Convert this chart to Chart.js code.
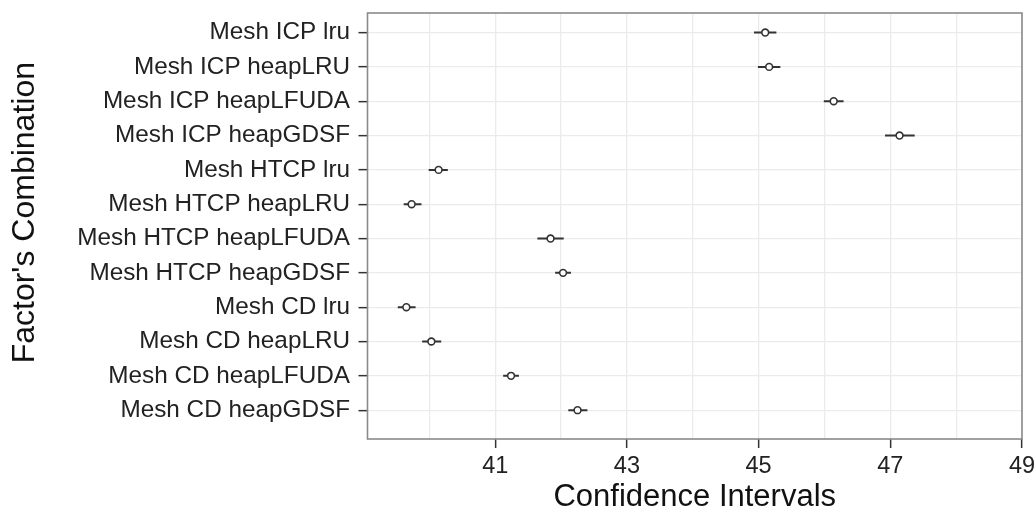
<!DOCTYPE html>
<html>
<head>
<meta charset="utf-8">
<title>Confidence Intervals</title>
<script src="https://cdn.jsdelivr.net/npm/chart.js@4/dist/chart.umd.min.js"></script>
<style>
    html, body { margin: 0; padding: 0; background: #fff; }
    #wrap { width: 1036px; height: 508px; }
</style>
</head>
<body>
<div id="wrap"><canvas id="ciChart" width="1036" height="508"></canvas></div>
<script>
// --- Data ---
const categories = [
    'Mesh ICP lru', 'Mesh ICP heapLRU', 'Mesh ICP heapLFUDA', 'Mesh ICP heapGDSF',
    'Mesh HTCP lru', 'Mesh HTCP heapLRU', 'Mesh HTCP heapLFUDA', 'Mesh HTCP heapGDSF',
    'Mesh CD lru', 'Mesh CD heapLRU', 'Mesh CD heapLFUDA', 'Mesh CD heapGDSF'
];
const means = [45.10, 45.16, 46.14, 47.14, 40.14, 39.73, 41.84, 42.03, 39.65, 40.03, 41.24, 42.25];
const lower = [44.93, 44.99, 45.99, 46.92, 39.99, 39.61, 41.64, 41.91, 39.52, 39.89, 41.12, 42.11];
const upper = [45.27, 45.33, 46.29, 47.37, 40.28, 39.88, 42.04, 42.15, 39.79, 40.18, 41.36, 42.40];

const xGrid = [40, 41, 42, 43, 44, 45, 46, 47, 48, 49];
const xLabels = [41, 43, 45, 47, 49];

// --- Styling ---
const FONT = '"Liberation Sans", Arial, Helvetica, sans-serif';
const INK = '#333333';
const GRID = '#ebebeb';

// ggplot-like panel border drawn over the data
const panelBorder = {
    id: 'panelBorder',
    afterDatasetsDraw(chart) {
        const { ctx, chartArea: { left, top, right, bottom } } = chart;
        ctx.save();
        ctx.strokeStyle = '#8a8a8a';
        ctx.lineWidth = 1.6;
        ctx.strokeRect(left, top, right - left, bottom - top);
        ctx.restore();
    }
};

// one horizontal segment per row for the interval
const intervalSets = categories.map((name, i) => ({
    label: name,
    data: [{ x: lower[i], y: i + 1 }, { x: upper[i], y: i + 1 }],
    showLine: true,
    borderColor: INK,
    borderWidth: 2,
    pointRadius: 0,
    order: 1
}));

const meanSet = {
    label: 'mean',
    data: means.map((m, i) => ({ x: m, y: i + 1 })),
    showLine: false,
    pointRadius: 3.4,
    pointBackgroundColor: '#ffffff',
    pointBorderColor: INK,
    pointBorderWidth: 1.6,
    order: 0
};

new Chart(document.getElementById('ciChart'), {
    type: 'scatter',
    data: { datasets: [meanSet, ...intervalSets] },
    plugins: [panelBorder],
    options: {
        responsive: false,
        animation: false,
        layout: { padding: { top: 13, right: 14, bottom: 0, left: 0 } },
        plugins: {
            legend: { display: false },
            tooltip: { enabled: false }
        },
        scales: {
            x: {
                type: 'linear',
                min: 39.06,
                max: 49,
                afterBuildTicks: axis => { axis.ticks = xGrid.map(v => ({ value: v })); },
                afterFit: axis => {
                    axis.height = 69;
                    axis.paddingLeft = 0;
                    axis.paddingRight = 0;
                },
                border: { display: false },
                grid: {
                    color: GRID,
                    lineWidth: 1.3,
                    tickLength: 9,
                    tickWidth: 1.5,
                    tickColor: ctx => (ctx.tick && xLabels.includes(ctx.tick.value)) ? INK : 'rgba(0,0,0,0)'
                },
                ticks: {
                    autoSkip: false,
                    maxRotation: 0,
                    padding: 4.5,
                    color: '#222',
                    font: { family: FONT, size: 23.5 },
                    callback: v => xLabels.includes(v) ? String(v) : ''
                },
                title: {
                    display: true,
                    text: 'Confidence Intervals',
                    color: '#111',
                    font: { family: FONT, size: 31, lineHeight: '22px' },
                    padding: { top: 0, bottom: 0 }
                }
            },
            y: {
                type: 'linear',
                reverse: true,
                min: 0.43,
                max: 12.84,
                afterBuildTicks: axis => { axis.ticks = categories.map((_, i) => ({ value: i + 1 })); },
                afterFit: axis => {
                    axis.width = 367.5;
                    axis.paddingTop = 0;
                    axis.paddingBottom = 0;
                },
                border: { display: false },
                grid: {
                    color: GRID,
                    lineWidth: 1.3,
                    tickLength: 9,
                    tickWidth: 1.5,
                    tickColor: INK
                },
                ticks: {
                    autoSkip: false,
                    padding: 8.5,
                    color: '#222',
                    font: { family: FONT, size: 24.3 },
                    callback: v => categories[v - 1]
                },
                title: {
                    display: true,
                    // leading spaces nudge the rotated title up a little
                    text: "   Factor's Combination",
                    color: '#111',
                    font: { family: FONT, size: 32 },
                    padding: { top: 6, bottom: 0 }
                }
            }
        }
    }
});
</script>
</body>
</html>
